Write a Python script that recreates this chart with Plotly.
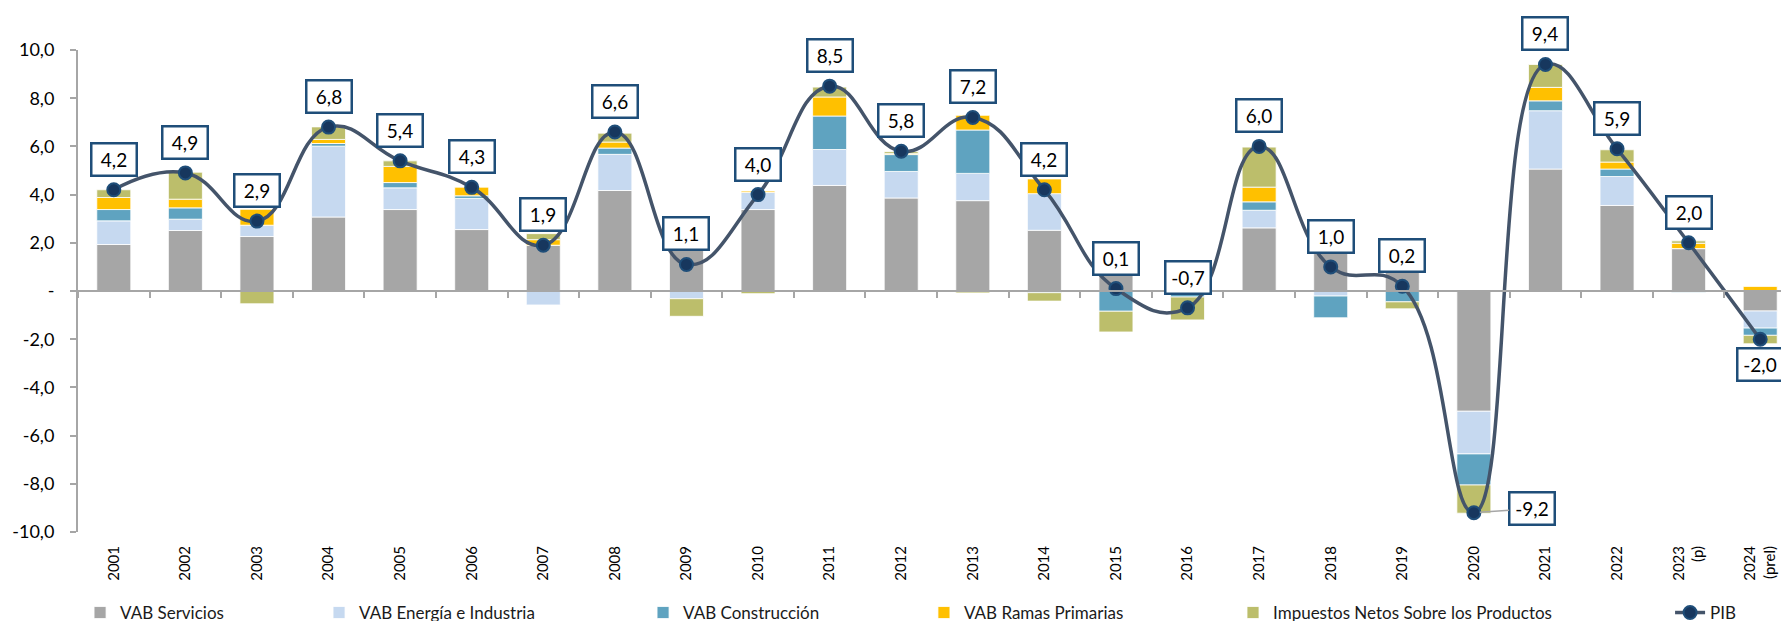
import plotly.graph_objects as go

years = ["2001", "2002", "2003", "2004", "2005", "2006", "2007", "2008", "2009", "2010",
         "2011", "2012", "2013", "2014", "2015", "2016", "2017", "2018", "2019", "2020",
         "2021", "2022", "2023<br>(p)", "2024<br>(prel)"]

vab_servicios = [1.93, 2.51, 2.26, 3.07, 3.38, 2.55, 1.90, 4.17, 2.10, 3.38,
                 4.38, 3.86, 3.75, 2.52, 1.80, 0.50, 2.62, 2.10, 0.95, -4.99,
                 5.06, 3.55, 1.76, -0.83]
vab_energia = [0.98, 0.47, 0.47, 2.94, 0.90, 1.29, -0.58, 1.50, -0.32, 0.72,
               1.49, 1.10, 1.13, 1.52, 0.00, 0.00, 0.73, -0.21, 0.00, -1.77,
               2.42, 1.20, 0.00, -0.71]
vab_construccion = [0.47, 0.47, 0.00, 0.11, 0.22, 0.11, 0.00, 0.26, 0.00, 0.00,
                    1.39, 0.70, 1.80, -0.07, -0.84, -0.25, 0.35, -0.90, -0.45, -1.29,
                    0.41, 0.31, -0.05, -0.30]
vab_primarias = [0.50, 0.36, 0.66, 0.17, 0.67, 0.37, 0.23, 0.25, 0.00, 0.05,
                 0.79, 0.04, 0.61, 0.61, 0.00, 0.00, 0.61, 0.00, 0.00, 0.00,
                 0.56, 0.29, 0.22, 0.19]
impuestos = [0.32, 1.12, -0.53, 0.52, 0.23, 0.00, 0.25, 0.37, -0.73, -0.11,
             0.41, 0.08, -0.08, -0.35, -0.86, -0.95, 1.66, 0.00, -0.29, -1.17,
             0.95, 0.51, 0.10, -0.35]
pib = [4.2, 4.9, 2.9, 6.8, 5.4, 4.3, 1.9, 6.6, 1.1, 4.0,
       8.5, 5.8, 7.2, 4.2, 0.1, -0.7, 6.0, 1.0, 0.2, -9.2,
       9.4, 5.9, 2.0, -2.0]

y_ticks = [10, 8, 6, 4, 2, 0, -2, -4, -6, -8, -10]
y_tick_text = ["10,0", "8,0", "6,0", "4,0", "2,0", "-", "-2,0", "-4,0", "-6,0", "-8,0", "-10,0"]

series = [
    ("VAB Servicios", vab_servicios, "#A6A6A6", "legend"),
    ("VAB Energía e Industria", vab_energia, "#C6D9F0", "legend2"),
    ("VAB Construcción", vab_construccion, "#5FA3C0", "legend3"),
    ("VAB Ramas Primarias", vab_primarias, "#FFC000", "legend4"),
    ("Impuestos Netos Sobre los Productos", impuestos, "#BCBE6B", "legend5"),
]

FONT = "Lato"
fig = go.Figure()
for name, vals, col, lg in series:
    fig.add_trace(go.Bar(x=years, y=vals, name=name, marker_color=col,
                         marker_line_color="white", marker_line_width=0.8,
                         legend=lg, hoverinfo="skip"))

fig.add_trace(go.Scatter(x=years, y=pib, name="PIB", mode="lines+markers",
                         line=dict(color="#44546A", width=3.5, shape="spline", smoothing=1.3),
                         marker=dict(size=13, color="#17375E", line=dict(color="#1F4E79", width=2)),
                         legend="legend6", hoverinfo="skip"))

# invisible helper trace on a second category axis that draws the zero axis line with boundary ticks
fig.add_trace(go.Scatter(x=years, y=[None] * len(years), xaxis="x2", mode="none",
                         showlegend=False, hoverinfo="skip"))

def fmt(v):
    return f"{v:.1f}".replace(".", ",")

annotations = []
n = len(years)
for i, v in enumerate(pib):
    a = dict(x=i, y=v, xref="x", yref="y", text=fmt(v), showarrow=False,
             font=dict(family=FONT, size=19, color="#000000"),
             bgcolor="white", bordercolor="#1F4E79", borderwidth=2.5, borderpad=3,
             width=37, height=24, xanchor="center")
    if v == min(pib):
        a.update(showarrow=True, arrowhead=0, arrowwidth=1.5, arrowcolor="#A6A6A6",
                 ax=58, ay=-4, axref="pixel", ayref="pixel", standoff=6)
    elif i == n - 1:
        a.update(yanchor="top", yshift=-8)
    else:
        a.update(yanchor="bottom", yshift=13)
    annotations.append(a)

legend_common = dict(orientation="h", yanchor="middle", y=-0.168, xanchor="left",
                     font=dict(family=FONT, size=17, color="#1a1a1a"),
                     bgcolor="rgba(0,0,0,0)", itemclick=False, itemdoubleclick=False)
legend_x = [0.0012, 0.1403, 0.3289, 0.4924, 0.6723, 0.9267]

fig.update_layout(
    width=1789, height=621,
    margin=dict(l=70, r=1, t=42, b=97, autoexpand=False),
    paper_bgcolor="white", plot_bgcolor="white",
    barmode="relative", bargap=0.525,
    font=dict(family=FONT, color="#262626"),
    xaxis=dict(type="category", anchor="y", side="bottom", range=[-0.5, n - 0.5],
               showline=False, ticks="", tickangle=-90, ticklabelstandoff=10,
               tickfont=dict(family=FONT, size=15, color="#000000"),
               showgrid=False, zeroline=False, fixedrange=True),
    xaxis2=dict(type="category", overlaying="x", anchor="free", position=0.5,
                range=[-0.5, n - 0.5], showline=True,
                linecolor="#A6A6A6", linewidth=2, ticks="outside", ticklen=6,
                tickcolor="#A6A6A6", tickwidth=1.5, tickson="boundaries",
                showticklabels=False, showgrid=False, zeroline=False, fixedrange=True),
    yaxis=dict(range=[-10, 10], tickvals=y_ticks, ticktext=y_tick_text,
               tickfont=dict(family=FONT, size=18, color="#000000"),
               showline=True, linecolor="#A6A6A6", linewidth=2, ticks="outside",
               ticklen=6, tickcolor="#A6A6A6", tickwidth=1.5, ticklabelstandoff=12,
               showgrid=False, zeroline=False, fixedrange=True),
    annotations=annotations,
    legend=dict(legend_common, x=legend_x[0]),
    legend2=dict(legend_common, x=legend_x[1]),
    legend3=dict(legend_common, x=legend_x[2]),
    legend4=dict(legend_common, x=legend_x[3]),
    legend5=dict(legend_common, x=legend_x[4]),
    legend6=dict(legend_common, x=legend_x[5]),
)

fig.write_html("out.html")
